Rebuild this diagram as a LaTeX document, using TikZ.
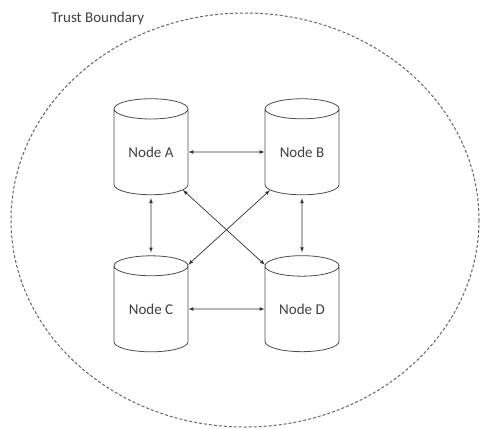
\documentclass[tikz,border=0pt]{standalone}
\usepackage{fontspec}
\setmainfont{Carlito}
\usepackage{tikz}
\usetikzlibrary{arrows, shapes.geometric}
\tikzset{>=latex}
\tikzset{
  store/.style = {cylinder, shape border rotate=90, draw=black!70, line width=0.8pt,
    minimum width=74pt, minimum height=96pt, aspect=0.45, inner sep=0pt,
    font=\fontsize{15}{18}\selectfont, text=black!75},
  link/.style = {<->, line width=0.7pt, black!80}
}

\begin{document}
\begin{tikzpicture}[x=1pt, y=-1pt]
\useasboundingbox (0,0) rectangle (481,428);
% boundary
\draw[black!60, line width=1pt, dash pattern=on 3pt off 2pt] (245,220) ellipse [x radius=234, y radius=207];
\node[anchor=west, font=\fontsize{15}{18}\selectfont, text=black!75] (tb) at (48,19) {Trust Boundary};

\node[store] (A) at (151,152) {Node A};
\node[store] (B) at (302,152) {Node B};
\node[store] (C) at (151,309) {Node C};
\node[store] (D) at (302,309) {Node D};

\draw[link] (A.east) -- (B.west);
\draw[link] (C.east) -- (D.west);
\draw[link, shorten >=3pt, shorten <=3pt] (A.south) -- (C.north);
\draw[link, shorten >=3pt, shorten <=3pt] (B.south) -- (D.north);
\draw[link] (A.-50) -- (D.130);
\draw[link] (B.-130) -- (C.50);
\end{tikzpicture}
\end{document}
